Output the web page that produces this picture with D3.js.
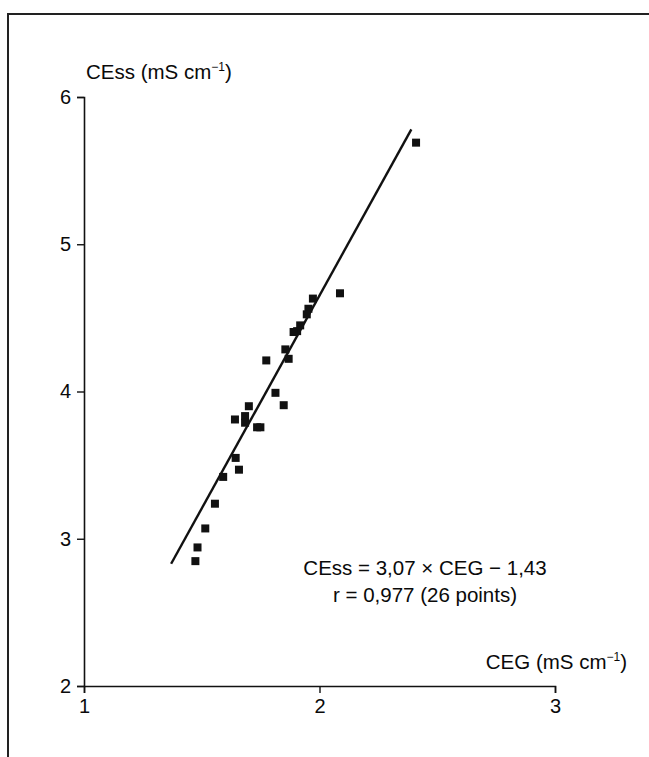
<!DOCTYPE html>
<html>
<head>
<meta charset="utf-8">
<script src="https://cdn.jsdelivr.net/npm/d3@7"></script>
<style>
  body { margin: 0; background: #fff; }
  text { font-family: "Liberation Sans", Arial, sans-serif; fill: #0a0a0a; }
</style>
</head>
<body>
<svg id="chart" width="649" height="757"></svg>
<script>
// CEG values (x) and CEss values (y)
const ceg  = [2.41, 2.087, 1.972, 1.953, 1.946, 1.918, 1.905, 1.890, 1.855, 1.869,
              1.774, 1.813, 1.848, 1.700, 1.641, 1.684, 1.684, 1.735, 1.749, 1.644,
              1.658, 1.591, 1.556, 1.515, 1.482, 1.473];
const cess = [5.69, 4.667, 4.631, 4.562, 4.524, 4.449, 4.41, 4.404, 4.286, 4.222,
              4.211, 3.991, 3.907, 3.900, 3.810, 3.833, 3.788, 3.757, 3.757, 3.549,
              3.469, 3.420, 3.238, 3.070, 2.941, 2.848];

// drawn regression line ends
const fitX = [1.37, 2.39];
const fitY = [2.83, 5.78];

const xTicks = [1, 2, 3];
const yTicks = [2, 3, 4, 5, 6];

const svg = d3.select("#chart");

// frame (left and top edges)
svg.append("path")
    .attr("d", "M8,757V14H649")
    .attr("fill", "none")
    .attr("stroke", "#222")
    .attr("stroke-width", 2);

const x = d3.scaleLinear().domain([1, 3]).range([84, 555]);
const y = d3.scaleLinear().domain([2, 6]).range([686, 97]);

// axes
const xAxis = svg.append("g")
    .attr("transform", "translate(0," + y(2) + ")")
    .call(d3.axisBottom(x).tickValues(xTicks).tickSize(7).tickPadding(6).tickFormat(d3.format("d")));
const yAxis = svg.append("g")
    .attr("transform", "translate(" + x(1) + ",0)")
    .call(d3.axisLeft(y).tickValues(yTicks).tickSize(7).tickPadding(6).tickFormat(d3.format("d")));

[xAxis, yAxis].forEach(g => {
    g.select(".domain").attr("stroke", "#111").attr("stroke-width", 1.6);
    g.selectAll(".tick line").attr("stroke", "#111").attr("stroke-width", 1.4);
    g.selectAll(".tick text")
        .attr("font-size", 20)
        .attr("font-family", "Liberation Sans, Arial, sans-serif")
        .attr("fill", "#0a0a0a");
});

// regression line
svg.append("line")
    .attr("x1", x(fitX[0])).attr("y1", y(fitY[0]))
    .attr("x2", x(fitX[1])).attr("y2", y(fitY[1]))
    .attr("stroke", "#111")
    .attr("stroke-width", 2.4);

// points
const pts = ceg.map((v, i) => ({ x: v, y: cess[i] }));
const sz = 8;
svg.append("g").selectAll("rect")
    .data(pts)
    .enter().append("rect")
    .attr("x", d => x(d.x) - sz / 2)
    .attr("y", d => y(d.y) - sz / 2)
    .attr("width", sz)
    .attr("height", sz)
    .attr("fill", "#111");

// axis titles with superscript
function unitLabel(tx, ty, name, anchor) {
    const t = svg.append("text")
        .attr("x", tx).attr("y", ty)
        .attr("font-size", 20.5)
        .attr("text-anchor", anchor);
    t.append("tspan").text(name + " (mS cm");
    t.append("tspan").attr("font-size", 12).attr("dy", -8).text("\u22121");
    t.append("tspan").attr("dy", 8).text(")");
}
unitLabel(86, 79, "CEss", "start");
unitLabel(627, 669, "CEG", "end");

// equation
svg.append("text")
    .attr("x", 425).attr("y", 575)
    .attr("font-size", 20.5)
    .attr("text-anchor", "middle")
    .text("CEss = 3,07 \u00d7 CEG \u2212 1,43");
svg.append("text")
    .attr("x", 425).attr("y", 602)
    .attr("font-size", 20.5)
    .attr("text-anchor", "middle")
    .text("r = 0,977 (26 points)");
</script>
</body>
</html>
